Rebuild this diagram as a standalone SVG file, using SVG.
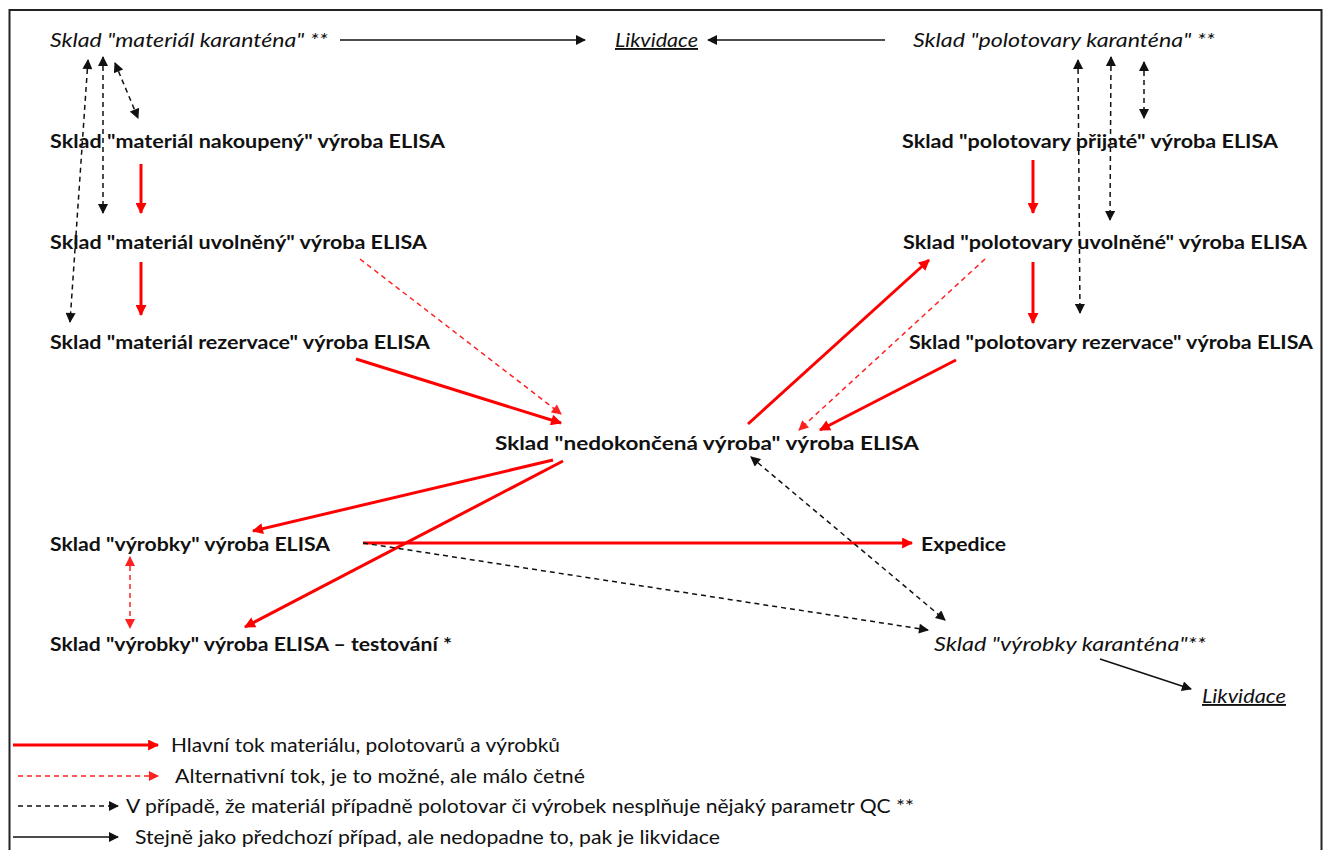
<svg xmlns="http://www.w3.org/2000/svg" width="1326" height="850" viewBox="0 0 1326 850">
  <style>
    text { font-family: "Lato", "Open Sans", "Liberation Sans", sans-serif; font-size: 19px; fill: #111; }
    .b { font-weight: bold; }
    .i { font-style: italic; }
    .u { text-decoration: underline; }
    .main { stroke: #ff0000; stroke-width: 3; fill: none; marker-end: url(#ah-red); }
    .alt { stroke: #ff2020; stroke-width: 1.5; stroke-dasharray: 5 4; fill: none; marker-end: url(#ah-red-s); }
    .alt2 { stroke: #ff2020; stroke-width: 1.5; stroke-dasharray: 5 4; fill: none; marker-end: url(#ah-red-s); marker-start: url(#ah-red-s); }
    .qc { stroke: #111; stroke-width: 1.5; stroke-dasharray: 5 4; fill: none; marker-end: url(#ah-blk); }
    .qc2 { stroke: #111; stroke-width: 1.5; stroke-dasharray: 5 4; fill: none; marker-end: url(#ah-blk); marker-start: url(#ah-blk); }
    .liq { stroke: #111; stroke-width: 1.5; fill: none; marker-end: url(#ah-blk); }
  </style>
  <defs>
    <marker id="ah-red" viewBox="0 0 10 10" refX="9" refY="5" markerWidth="13" markerHeight="11" markerUnits="userSpaceOnUse" orient="auto-start-reverse">
      <path d="M0,0 L10,5 L0,10 z" fill="#ff0000"/>
    </marker>
    <marker id="ah-red-s" viewBox="0 0 10 10" refX="9" refY="5" markerWidth="11" markerHeight="10" markerUnits="userSpaceOnUse" orient="auto-start-reverse">
      <path d="M0,0 L10,5 L0,10 z" fill="#ff2020"/>
    </marker>
    <marker id="ah-blk" viewBox="0 0 10 10" refX="9" refY="5" markerWidth="11" markerHeight="10" markerUnits="userSpaceOnUse" orient="auto-start-reverse">
      <path d="M0,0 L10,5 L0,10 z" fill="#111"/>
    </marker>
  </defs>

  <rect x="0" y="0" width="1326" height="850" fill="#ffffff"/>
  <rect x="9.5" y="10" width="1312" height="860" fill="none" stroke="#222" stroke-width="2"/>

  <!-- connectors -->
  <g id="connectors">
    <!-- quarantine to disposal -->
    <line class="liq" x1="340" y1="40" x2="585" y2="40"/>
    <line class="liq" x1="885" y1="40" x2="708" y2="40"/>
    <line class="liq" x1="1100" y1="659" x2="1191" y2="689"/>

    <!-- material quarantine links -->
    <line class="qc2" x1="88" y1="60" x2="70" y2="322"/>
    <line class="qc2" x1="103" y1="57" x2="103" y2="213"/>
    <line class="qc2" x1="115" y1="63" x2="138" y2="118"/>

    <!-- semi-product quarantine links -->
    <line class="qc2" x1="1078" y1="60" x2="1080" y2="313"/>
    <line class="qc2" x1="1111" y1="57" x2="1110" y2="220"/>
    <line class="qc2" x1="1144" y1="62" x2="1144" y2="118"/>

    <!-- main vertical flows -->
    <line class="main" x1="141" y1="164" x2="141" y2="213"/>
    <line class="main" x1="141" y1="262" x2="141" y2="315"/>
    <line class="main" x1="1033" y1="160" x2="1033" y2="213"/>
    <line class="main" x1="1033" y1="262" x2="1033" y2="323"/>

    <!-- flows into and out of work in progress -->
    <line class="alt" x1="360" y1="259" x2="561" y2="414"/>
    <line class="main" x1="356" y1="359" x2="561" y2="423"/>
    <line class="main" x1="748" y1="424" x2="929" y2="260"/>
    <line class="alt" x1="985" y1="259" x2="799" y2="430"/>
    <line class="main" x1="956" y1="360" x2="820" y2="430"/>
    <line class="main" x1="553" y1="460" x2="253" y2="531"/>
    <line class="main" x1="563" y1="461" x2="245" y2="627"/>
    <line class="main" x1="363" y1="543" x2="912" y2="543"/>

    <!-- products and testing -->
    <line class="alt2" x1="130" y1="557" x2="130" y2="628"/>
    <line class="qc" x1="363" y1="543" x2="928" y2="630"/>
    <line class="qc2" x1="751" y1="457" x2="945" y2="620"/>

    <!-- legend samples -->
    <line class="main" x1="13" y1="745" x2="158" y2="745"/>
    <line class="alt" x1="18" y1="776" x2="158" y2="776"/>
    <line class="qc" x1="18" y1="806" x2="118" y2="806"/>
    <line class="liq" x1="13" y1="837" x2="118" y2="837"/>
  </g>

  <g id="mat-karantena"><text class="i" x="50" y="47" textLength="278" lengthAdjust="spacingAndGlyphs">Sklad "materiál karanténa" **</text></g>
  <g id="likvidace-top"><text class="i u" x="615" y="47" textLength="83" lengthAdjust="spacingAndGlyphs">Likvidace</text></g>
  <g id="pol-karantena"><text class="i" x="913" y="47" textLength="302" lengthAdjust="spacingAndGlyphs">Sklad "polotovary karanténa" **</text></g>

  <g id="mat-nakoupeny"><text class="b" x="50" y="148" textLength="395" lengthAdjust="spacingAndGlyphs">Sklad "materiál nakoupený" výroba ELISA</text></g>
  <g id="pol-prijate"><text class="b" x="902" y="148" textLength="376" lengthAdjust="spacingAndGlyphs">Sklad "polotovary přijaté" výroba ELISA</text></g>

  <g id="mat-uvolneny"><text class="b" x="50" y="249" textLength="377" lengthAdjust="spacingAndGlyphs">Sklad "materiál uvolněný" výroba ELISA</text></g>
  <g id="pol-uvolnene"><text class="b" x="903" y="249" textLength="404" lengthAdjust="spacingAndGlyphs">Sklad "polotovary uvolněné" výroba ELISA</text></g>

  <g id="mat-rezervace"><text class="b" x="50" y="349" textLength="380" lengthAdjust="spacingAndGlyphs">Sklad "materiál rezervace" výroba ELISA</text></g>
  <g id="pol-rezervace"><text class="b" x="909" y="349" textLength="404" lengthAdjust="spacingAndGlyphs">Sklad "polotovary rezervace" výroba ELISA</text></g>

  <g id="nedokoncena"><text class="b" x="495" y="450" textLength="424" lengthAdjust="spacingAndGlyphs">Sklad "nedokončená výroba" výroba ELISA</text></g>

  <g id="vyrobky"><text class="b" x="50" y="551" textLength="280" lengthAdjust="spacingAndGlyphs">Sklad "výrobky" výroba ELISA</text></g>
  <g id="expedice"><text class="b" x="921" y="551" textLength="85" lengthAdjust="spacingAndGlyphs">Expedice</text></g>

  <g id="vyrobky-testovani"><text class="b" x="50" y="651" textLength="402" lengthAdjust="spacingAndGlyphs">Sklad "výrobky" výroba ELISA – testování *</text></g>
  <g id="vyr-karantena"><text class="i" x="934" y="651" textLength="272" lengthAdjust="spacingAndGlyphs">Sklad "výrobky karanténa"**</text></g>
  <g id="likvidace-bottom"><text class="i u" x="1202" y="703" textLength="84" lengthAdjust="spacingAndGlyphs">Likvidace</text></g>

  <g id="legend">
    <text x="171" y="752" textLength="389" lengthAdjust="spacingAndGlyphs">Hlavní tok materiálu, polotovarů a výrobků</text>
    <text x="175" y="783" textLength="410" lengthAdjust="spacingAndGlyphs">Alternativní tok, je to možné, ale málo četné</text>
    <text x="126" y="813" textLength="788" lengthAdjust="spacingAndGlyphs">V případě, že materiál případně polotovar či výrobek nesplňuje nějaký parametr QC **</text>
    <text x="135" y="844" textLength="585" lengthAdjust="spacingAndGlyphs">Stejně jako předchozí případ, ale nedopadne to, pak je likvidace</text>
  </g>
</svg>
